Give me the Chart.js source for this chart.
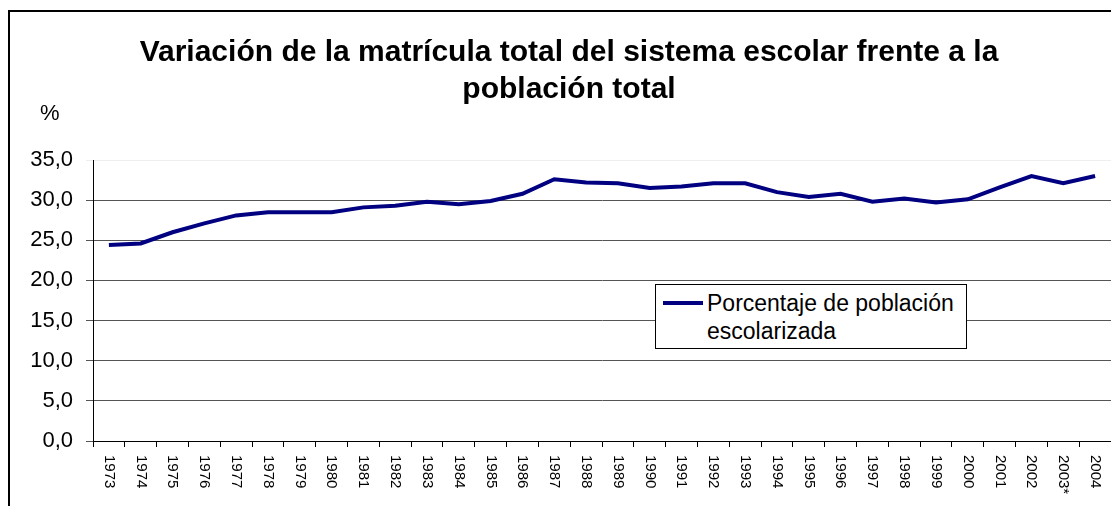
<!DOCTYPE html>
<html>
<head>
<meta charset="utf-8">
<script src="https://cdn.jsdelivr.net/npm/chart.js@4/dist/chart.umd.min.js"></script>
<style>
  body { margin: 0; background: #fff; font-family: "Liberation Sans", Arial, sans-serif; }
  #wrap { position: relative; width: 1111px; height: 506px; overflow: hidden; }
  #frame { position: absolute; left: 8px; top: 10px; width: 1130px; height: 530px; border: 2px solid #000; }
  #title { position: absolute; left: 69px; width: 1000px; top: 32px; text-align: center; font-weight: bold; font-size: 30px; line-height: 37px; }
  #pct { position: absolute; left: 40px; top: 100px; font-size: 22px; }
  #legend { position: absolute; left: 655px; top: 284px; width: 310px; height: 63px; border: 1px solid #000; background: #fff; font-size: 23px; line-height: 28px; }
  #legend .line { position: absolute; left: 7px; top: 16px; width: 40px; height: 4px; background: #000080; }
  #legend .txt { position: absolute; left: 51px; top: 4px; white-space: nowrap; }
  canvas { position: absolute; left: 0; top: 0; }
</style>
</head>
<body>
<div id="wrap">
  <div id="frame"></div>
  <canvas id="chart" width="1111" height="506"></canvas>
  <div id="title">Variación de la matrícula total del sistema escolar frente a la<br>población total</div>
  <div id="pct">%</div>
  <div id="legend"><div class="line"></div><div class="txt">Porcentaje de población<br>escolarizada</div></div>
</div>
<script>
var years = ["1973","1974","1975","1976","1977","1978","1979","1980","1981","1982",
  "1983","1984","1985","1986","1987","1988","1989","1990","1991","1992",
  "1993","1994","1995","1996","1997","1998","1999","2000","2001","2002","2003*","2004"]

var porcentaje = [24.4, 24.6, 26.0, 27.1, 28.1, 28.5, 28.5, 28.5, 29.1, 29.3,
  29.8, 29.5, 29.9, 30.8, 32.6, 32.2, 32.1, 31.5, 31.7, 32.1,
  32.1, 31.0, 30.4, 30.8, 29.8, 30.2, 29.7, 30.1, 31.6, 33.0, 32.1, 33.0]

var seriesName = "Porcentaje de población escolarizada"

// x labels read top to bottom, so draw them by hand
var verticalLabels = {
  id: "verticalLabels",
  afterDraw: function(chart) {
    var ctx = chart.ctx,
      xs = chart.scales.x,
      top = chart.chartArea.bottom + 14;
    ctx.save();
    ctx.fillStyle = "#000";
    ctx.font = "15px 'Liberation Sans', Arial, sans-serif";
    ctx.textAlign = "left";
    ctx.textBaseline = "middle";
    years.forEach(function(lbl, i) {
      ctx.save();
      ctx.translate(xs.getPixelForValue(i), top);
      ctx.rotate(Math.PI / 2);
      ctx.fillText(lbl, 0, 0);
      ctx.restore();
    });
    ctx.restore();
  }
}

var chart = new Chart(document.getElementById("chart").getContext("2d"), {
  type: "line",
  data: {
    labels: years,
    datasets: [{
      label: seriesName,
      data: porcentaje,
      borderColor: "#000080",
      backgroundColor: "#000080",
      borderWidth: 4,
      pointRadius: 0,
      tension: 0
    }]
  },
  options: {
    responsive: false,
    animation: false,
    layout: { padding: { top: 160, left: 0, right: 0, bottom: 0 } },
    plugins: {
      legend: { display: false },
      title: { display: false },
      tooltip: { enabled: false }
    },
    scales: {
      x: {
        offset: true,
        afterFit: function(s) { s.height = 65 },
        ticks: { display: false },
        grid: { offset: true, drawOnChartArea: false, tickLength: 6, color: "#000" },
        border: { color: "#000", width: 1 }
      },
      y: {
        min: 0,
        max: 35,
        afterFit: function(s) { s.width = 93 },
        ticks: {
          stepSize: 5,
          padding: 13,
          color: "#000",
          font: { family: "'Liberation Sans', Arial, sans-serif", size: 22 },
          callback: function(v) { return v.toFixed(1).replace(".", ",") }
        },
        grid: {
          tickLength: 7,
          color: function(c) { return c.tick && c.tick.value === 35 ? "#eeeeee" : "#555555" }
        },
        border: { color: "#000", width: 1 }
      }
    }
  },
  plugins: [verticalLabels]
})
</script>
</body>
</html>
